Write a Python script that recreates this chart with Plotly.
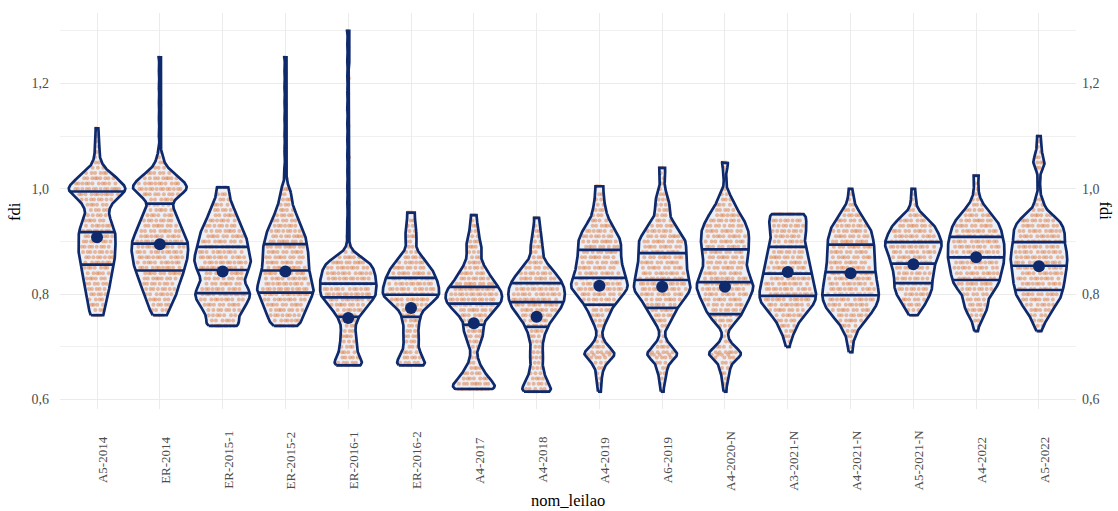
import numpy as np
import plotly.graph_objects as go

# ---------------- data ----------------
categories = ["A5-2014", "ER-2014", "ER-2015-1", "ER-2015-2", "ER-2016-1", "ER-2016-2",
              "A4-2017", "A4-2018", "A4-2019", "A6-2019", "A4-2020-N", "A3-2021-N",
              "A4-2021-N", "A5-2021-N", "A4-2022", "A5-2022"]

# fdi values and how many auction lots sit at each value
fdi_a5_2014 = [1.115, 1.10, 1.09, 1.08, 1.07, 1.06, 1.05, 1.04, 1.03, 1.02, 1.01, 1.00, 0.99, 0.98, 0.97,
               0.96, 0.95, 0.94, 0.93, 0.92, 0.91, 0.90, 0.89, 0.88, 0.87, 0.86, 0.85, 0.84, 0.83, 0.82,
               0.81, 0.80, 0.79, 0.78, 0.77, 0.76]
cnt_a5_2014 = [1, 1, 1, 1, 1, 1, 2, 3, 6, 9, 11, 14, 11, 8, 6, 5, 5, 6, 7, 8, 8, 8, 8, 8, 8, 7, 7, 6, 6, 6,
               5, 5, 4, 4, 3, 4]

fdi_er_2014 = [1.25, 1.22, 1.19, 1.16, 1.13, 1.10, 1.07, 1.06, 1.05, 1.04, 1.03, 1.02,
               1.01, 1.00, 0.99, 0.98, 0.97, 0.96, 0.95, 0.94, 0.93, 0.92, 0.91, 0.90, 0.89, 0.88, 0.87,
               0.86, 0.85, 0.84, 0.83, 0.82, 0.81, 0.80, 0.79, 0.78, 0.77, 0.76]
cnt_er_2014 = [1, 1, 1, 1, 1, 1, 1, 1, 2, 3, 6, 9, 11, 13, 9, 6, 5, 6, 7, 8, 9, 10, 11, 12, 12, 12,
               12, 11, 11, 10, 9, 8, 8, 7, 6, 5, 4, 4]

fdi_er_2015_1 = [1.003, 0.99, 0.98, 0.97, 0.96, 0.95, 0.94, 0.93, 0.92, 0.91, 0.90, 0.89, 0.88, 0.87, 0.86,
                 0.85, 0.84, 0.83, 0.82, 0.81, 0.80, 0.79, 0.78, 0.77, 0.76, 0.75, 0.74]
cnt_er_2015_1 = [4, 3, 3, 4, 5, 6, 7, 8, 9, 10, 10, 11, 11, 12, 12, 11, 10, 9, 9, 11, 12, 11, 10, 8, 7, 6, 9]

fdi_er_2015_2 = [1.25, 1.22, 1.19, 1.16, 1.13, 1.10, 1.07, 1.04, 1.02, 1.00,
                 0.99, 0.98, 0.97, 0.96, 0.95, 0.94, 0.93, 0.92, 0.91, 0.90, 0.89, 0.88, 0.87, 0.86, 0.85,
                 0.84, 0.83, 0.82, 0.81, 0.80, 0.79, 0.78, 0.77, 0.76, 0.75, 0.74]
cnt_er_2015_2 = [1, 1, 1, 1, 1, 1, 1, 1, 1, 3, 2, 3, 3, 4, 5, 6, 7, 8, 9, 9, 10, 10, 10, 10,
                 10, 11, 11, 12, 13, 12, 11, 10, 9, 8, 7, 7]

fdi_er_2016_1 = [1.30, 1.27, 1.24, 1.21, 1.18, 1.15, 1.12, 1.09, 1.06, 1.03, 1.00, 0.97, 0.94, 0.91,
                 0.89, 0.88, 0.87, 0.86, 0.85, 0.84, 0.83, 0.82, 0.81,
                 0.80, 0.79, 0.78, 0.77, 0.76, 0.75, 0.74, 0.73, 0.72, 0.71, 0.70, 0.69, 0.68, 0.67, 0.665]
cnt_er_2016_1 = [1, 1, 1, 1, 1, 1, 1, 1, 1, 1, 1, 1, 1, 1, 1, 2, 6, 10, 11, 12, 12, 13,
                 12, 13, 11, 9, 7, 5, 4, 3, 3, 4, 3, 4, 4, 5, 5, 6]

fdi_er_2016_2 = [0.955, 0.94, 0.93, 0.92, 0.91, 0.90, 0.89, 0.88, 0.87, 0.86, 0.85, 0.84, 0.83, 0.82, 0.81,
                 0.80, 0.79, 0.78, 0.77, 0.76, 0.75, 0.74, 0.73, 0.72, 0.71, 0.70, 0.69, 0.68, 0.67, 0.665]
cnt_er_2016_2 = [3, 2, 2, 2, 3, 2, 2, 3, 5, 7, 9, 10, 11, 12, 12, 13, 11, 8, 5, 4, 4, 3, 3, 4, 3, 3, 4, 5, 5, 6]

fdi_a4_2017 = [0.95, 0.94, 0.93, 0.92, 0.91, 0.90, 0.89, 0.88, 0.87, 0.86, 0.85, 0.84, 0.83, 0.82, 0.81,
               0.80, 0.79, 0.78, 0.77, 0.76, 0.75, 0.74, 0.73, 0.72, 0.71, 0.70, 0.69, 0.68, 0.67, 0.66,
               0.65, 0.64, 0.63, 0.62]
cnt_a4_2017 = [2, 1, 2, 2, 2, 3, 4, 3, 3, 4, 5, 7, 8, 10, 12, 13, 13, 12, 9, 7, 5, 4, 5, 4, 3, 2, 1, 2, 2, 4,
               5, 7, 9, 13]

fdi_a4_2018 = [0.945, 0.93, 0.92, 0.91, 0.90, 0.89, 0.88, 0.87, 0.86, 0.85, 0.84, 0.83, 0.82, 0.81, 0.80,
               0.79, 0.78, 0.77, 0.76, 0.75, 0.74, 0.73, 0.72, 0.71, 0.70, 0.69, 0.68, 0.67, 0.66, 0.65,
               0.64, 0.63, 0.62, 0.615]
cnt_a4_2018 = [2, 1, 2, 2, 2, 3, 2, 3, 4, 6, 8, 10, 11, 12, 12, 12, 11, 10, 8, 6, 5, 4, 3, 3, 2, 3, 3, 2, 3, 3,
               4, 5, 5, 6]

fdi_a4_2019 = [1.005, 0.99, 0.98, 0.97, 0.96, 0.95, 0.94, 0.93, 0.92, 0.91, 0.90, 0.89, 0.88, 0.87, 0.86,
               0.85, 0.84, 0.83, 0.82, 0.81, 0.80, 0.79, 0.78, 0.77, 0.76, 0.75, 0.74, 0.73, 0.72, 0.71,
               0.70, 0.69, 0.685, 0.68, 0.67, 0.66, 0.65, 0.64, 0.63, 0.615]
cnt_a4_2019 = [3, 2, 2, 2, 3, 3, 4, 6, 7, 8, 9, 9, 9, 9, 9, 10, 10, 11, 12, 12, 10, 8, 6, 5, 4, 3, 2, 1, 1, 2,
               4, 5, 4, 4, 3, 2, 1, 1, 1, 1]

fdi_a6_2019 = [1.04, 1.03, 1.02, 1.01, 1.00, 0.99, 0.98, 0.97, 0.96, 0.95, 0.94, 0.93, 0.92, 0.91, 0.90,
               0.89, 0.88, 0.87, 0.86, 0.85, 0.84, 0.83, 0.82, 0.81, 0.80, 0.79, 0.78, 0.77, 0.76, 0.75,
               0.74, 0.73, 0.72, 0.71, 0.70, 0.69, 0.685, 0.68, 0.67, 0.66, 0.65, 0.64, 0.63, 0.615]
cnt_a6_2019 = [2, 1, 1, 1, 1, 2, 3, 3, 3, 3, 4, 6, 7, 9, 10, 10, 10, 10, 10, 10, 11, 11, 12, 12, 11, 9, 7, 6,
               5, 4, 2, 1, 1, 2, 4, 5, 4, 4, 3, 2, 2, 1, 1, 1]

fdi_a4_2020_n = [1.05, 1.04, 1.02, 1.00, 0.99, 0.98, 0.97, 0.96, 0.95, 0.94, 0.93, 0.92, 0.91, 0.90, 0.89,
                 0.88, 0.87, 0.86, 0.85, 0.84, 0.83, 0.82, 0.81, 0.80, 0.79, 0.78, 0.77, 0.76, 0.75, 0.74,
                 0.73, 0.72, 0.71, 0.70, 0.69, 0.685, 0.68, 0.67, 0.66, 0.65, 0.64, 0.63, 0.615]
cnt_a4_2020_n = [2, 1, 1, 1, 2, 3, 4, 5, 7, 8, 9, 10, 10, 10, 10, 10, 9, 9, 9, 10, 11, 12, 12, 11, 10, 9, 8, 7,
                 5, 3, 1, 1, 2, 4, 6, 4, 4, 3, 2, 2, 1, 1, 1]

fdi_a3_2021_n = [0.952, 0.94, 0.93, 0.92, 0.91, 0.90, 0.89, 0.88, 0.87, 0.86, 0.85, 0.84, 0.83, 0.82, 0.81,
                 0.80, 0.79, 0.78, 0.77, 0.76, 0.75, 0.74, 0.73, 0.72, 0.71, 0.70]
cnt_a3_2021_n = [11, 8, 8, 8, 7, 7, 8, 8, 9, 9, 10, 10, 11, 11, 12, 12, 12, 11, 9, 7, 5, 4, 3, 2, 1, 1]

fdi_a4_2021_n = [1.00, 0.99, 0.98, 0.97, 0.96, 0.95, 0.94, 0.93, 0.92, 0.91, 0.90, 0.89, 0.88, 0.87, 0.86,
                 0.85, 0.84, 0.83, 0.82, 0.81, 0.80, 0.79, 0.78, 0.77, 0.76, 0.75, 0.74, 0.73, 0.72, 0.71,
                 0.70, 0.69]
cnt_a4_2021_n = [1, 1, 1, 2, 3, 5, 6, 8, 9, 9, 10, 10, 10, 10, 10, 10, 11, 11, 11, 12, 12, 12, 11, 10, 8, 6, 4,
                 3, 2, 1, 1, 1]

fdi_a5_2021_n = [1.00, 0.99, 0.98, 0.97, 0.96, 0.95, 0.94, 0.93, 0.92, 0.91, 0.90, 0.89, 0.88, 0.87, 0.86,
                 0.85, 0.84, 0.83, 0.82, 0.81, 0.80, 0.79, 0.78, 0.77, 0.76]
cnt_a5_2021_n = [1, 1, 1, 1, 2, 4, 7, 9, 10, 11, 12, 12, 11, 10, 9, 9, 8, 8, 8, 8, 7, 6, 5, 3, 2]

fdi_a4_2022 = [1.025, 1.01, 1.00, 0.99, 0.98, 0.97, 0.96, 0.95, 0.94, 0.93, 0.92, 0.91, 0.90, 0.89, 0.88,
               0.87, 0.86, 0.85, 0.84, 0.83, 0.82, 0.81, 0.80, 0.79, 0.78, 0.77, 0.76, 0.75, 0.74, 0.73]
cnt_a4_2022 = [2, 1, 1, 1, 2, 3, 5, 7, 9, 10, 11, 11, 12, 12, 12, 12, 12, 11, 11, 10, 10, 8, 6, 5, 5, 5, 3, 2,
               1, 1]

fdi_a5_2022 = [1.10, 1.09, 1.08, 1.07, 1.06, 1.05, 1.04, 1.02, 1.00, 0.98, 0.97, 0.96, 0.95, 0.94, 0.93,
               0.92, 0.91, 0.90, 0.89, 0.88, 0.87, 0.86, 0.85, 0.84, 0.83, 0.82, 0.81, 0.80, 0.79, 0.78,
               0.77, 0.76, 0.75, 0.74, 0.73]
cnt_a5_2022 = [1, 1, 1, 1, 2, 3, 2, 1, 1, 2, 2, 3, 6, 9, 10, 11, 11, 11, 11, 12, 12, 12, 12, 11, 11, 11, 10,
               10, 9, 7, 6, 4, 3, 2, 1]

# quartiles and means per auction
q1_fdi = [0.856, 0.845, 0.802, 0.803, 0.757, 0.757, 0.742, 0.738, 0.780, 0.774, 0.762, 0.797, 0.798, 0.821, 0.827, 0.808]
q2_fdi = [0.918, 0.896, 0.846, 0.845, 0.794, 0.799, 0.782, 0.785, 0.831, 0.827, 0.823, 0.839, 0.842, 0.858, 0.870, 0.854]
q3_fdi = [0.995, 0.972, 0.890, 0.895, 0.820, 0.831, 0.814, 0.821, 0.884, 0.878, 0.885, 0.890, 0.894, 0.899, 0.909, 0.899]
mean_fdi = [0.908, 0.895, 0.843, 0.843, 0.755, 0.774, 0.745, 0.757, 0.816, 0.814, 0.814, 0.842, 0.840, 0.857, 0.870, 0.853]

series = [(fdi_a5_2014, cnt_a5_2014), (fdi_er_2014, cnt_er_2014), (fdi_er_2015_1, cnt_er_2015_1),
          (fdi_er_2015_2, cnt_er_2015_2), (fdi_er_2016_1, cnt_er_2016_1), (fdi_er_2016_2, cnt_er_2016_2),
          (fdi_a4_2017, cnt_a4_2017), (fdi_a4_2018, cnt_a4_2018), (fdi_a4_2019, cnt_a4_2019),
          (fdi_a6_2019, cnt_a6_2019), (fdi_a4_2020_n, cnt_a4_2020_n), (fdi_a3_2021_n, cnt_a3_2021_n),
          (fdi_a4_2021_n, cnt_a4_2021_n), (fdi_a5_2021_n, cnt_a5_2021_n), (fdi_a4_2022, cnt_a4_2022),
          (fdi_a5_2022, cnt_a5_2022)]

# ---------------- styling ----------------
NAVY = "#0E2A6C"
FILL = "#EDEFF7"
ORANGE = "rgba(221,112,45,0.45)"
GRID = "#EBEBEB"
TICK = "#4D4D4D"
FONT = "Liberation Serif"
BW = 0.0085     # kernel bandwidth
HALF = 0.45     # max half width of a violin (x units)
SPREAD = 0.85   # share of the local violin width used by the jittered points
PHI = 0.6180339887  # golden-ratio step for an even, deterministic horizontal spread

fig = go.Figure()
pos = list(range(1, len(categories) + 1))

outline_traces = []
pts_x, pts_y = [], []
for i, (v, n) in zip(pos, series):
    d = np.repeat(np.array(v, dtype=float), np.array(n))
    grid = np.linspace(d.min(), d.max(), 600)
    dens = np.exp(-0.5 * ((grid[:, None] - d[None, :]) / BW) ** 2).sum(axis=1)
    hw = HALF * dens / dens.max()
    xs = np.concatenate([i - hw, (i + hw)[::-1], [i - hw[0]]])
    ys = np.concatenate([grid, grid[::-1], [grid[0]]])
    # light fill first
    fig.add_trace(go.Scatter(x=xs, y=ys, mode="lines", fill="toself", fillcolor=FILL,
                             line=dict(width=0), hoverinfo="skip", showlegend=False))
    qx, qy = [], []
    for q in (q1_fdi[i - 1], q2_fdi[i - 1], q3_fdi[i - 1]):
        h = float(np.interp(q, grid, hw))
        qx += [i - h, i + h, None]
        qy += [q, q, None]
    outline_traces.append(go.Scatter(x=list(xs) + [None] + qx, y=list(ys) + [None] + qy, mode="lines",
                                     line=dict(color=NAVY, width=2.7), hoverinfo="skip",
                                     showlegend=False, connectgaps=False))
    # jittered sample points, kept inside the violin
    k = np.arange(len(d))
    u = ((k * PHI) % 1.0) * 2 - 1
    pts_x.extend((i + SPREAD * u * np.interp(d, grid, hw)).tolist())
    pts_y.extend(d.tolist())

fig.add_trace(go.Scatter(x=pts_x, y=pts_y, mode="markers",
                         marker=dict(size=4, color=ORANGE, line=dict(width=0)),
                         hoverinfo="skip", showlegend=False))
for tr in outline_traces:
    fig.add_trace(tr)

fig.add_trace(go.Scatter(x=pos, y=mean_fdi, mode="markers", marker=dict(size=12, color=NAVY),
                         showlegend=False, hoverinfo="skip"))
# invisible trace so that the mirrored right axis is drawn
fig.add_trace(go.Scatter(x=pos[:1], y=mean_fdi[:1], yaxis="y2", mode="markers",
                         marker=dict(opacity=0), showlegend=False, hoverinfo="skip"))

YR = [0.582, 1.334]
yt = [0.6, 0.8, 1.0, 1.2]
annotations = []
for i, c in zip(pos, categories):
    annotations.append(dict(x=i, y=-0.1288, xref="x", yref="paper", text=c, textangle=-90,
                            showarrow=False, xanchor="center", yanchor="middle", xshift=5,
                            font=dict(family=FONT, size=13, color=TICK)))
annotations.append(dict(x=0.5, y=-0.2298, xref="paper", yref="paper", text="nom_leilao", showarrow=False,
                        xanchor="center", yanchor="middle", font=dict(family=FONT, size=16.5, color="#000")))
annotations.append(dict(x=-0.0453, y=0.5, xref="paper", yref="paper", text="fdi", textangle=-90,
                        showarrow=False, xanchor="center", yanchor="middle",
                        font=dict(family=FONT, size=16.5, color="#000")))
annotations.append(dict(x=1.0404, y=0.5, xref="paper", yref="paper", text="fdi", textangle=90,
                        showarrow=False, xanchor="right", yanchor="middle",
                        font=dict(family=FONT, size=16.5, color="#000")))

fig.update_layout(
    width=1118, height=511,
    margin=dict(l=60, r=42, t=13, b=102),
    paper_bgcolor="white", plot_bgcolor="white",
    separators=",.",
    font=dict(family=FONT, size=14, color=TICK),
    showlegend=False,
    xaxis=dict(range=[0.41, 16.59], tickvals=pos, showticklabels=False, showgrid=True, gridcolor=GRID,
               gridwidth=1.2, zeroline=False, showline=False, ticks=""),
    yaxis=dict(range=YR, tickvals=yt, tickformat=".1f", showgrid=True, gridcolor=GRID, gridwidth=1.2,
               zeroline=False, showline=False, ticks="", ticklabelstandoff=10,
               tickfont=dict(family=FONT, size=14, color=TICK),
               minor=dict(tickvals=[0.7, 0.9, 1.1, 1.3], showgrid=True, gridcolor="#F0F0F0", gridwidth=1)),
    yaxis2=dict(range=YR, tickvals=yt, tickformat=".1f", overlaying="y", side="right", showgrid=False,
                zeroline=False, showline=False, ticks="", ticklabelstandoff=5,
                tickfont=dict(family=FONT, size=14, color=TICK)),
    annotations=annotations,
)

fig.write_html("out.html")
